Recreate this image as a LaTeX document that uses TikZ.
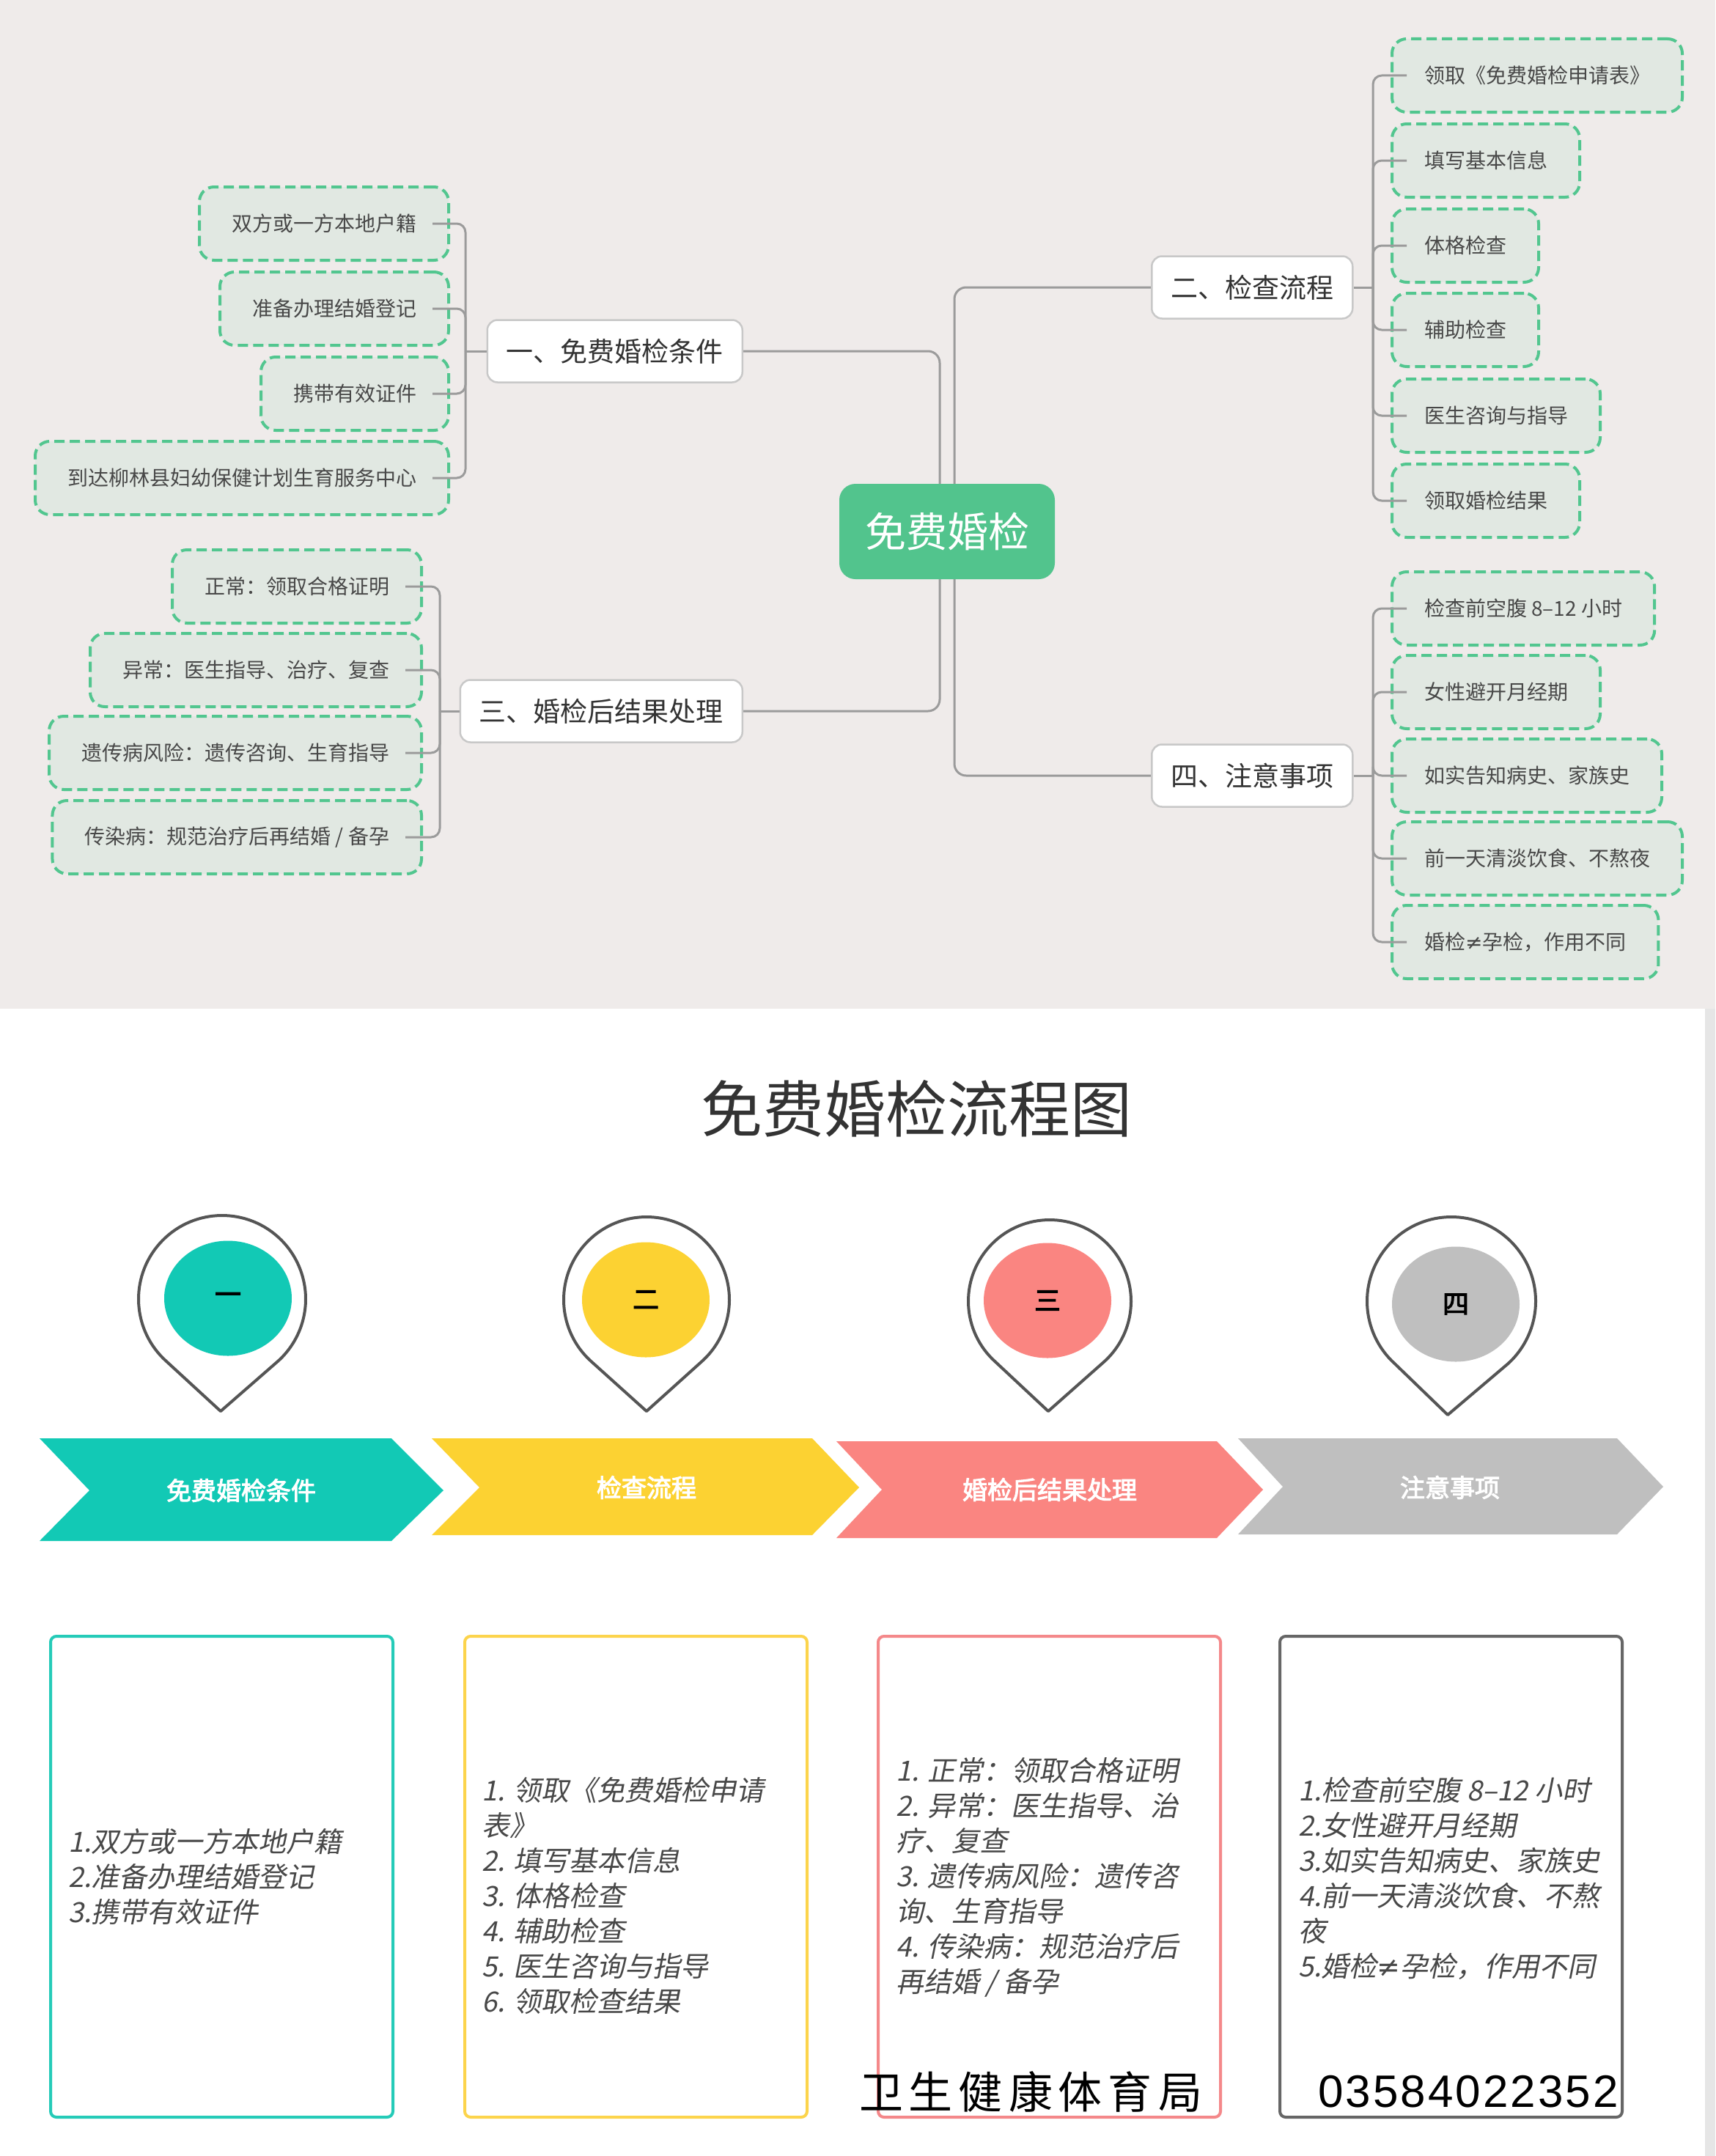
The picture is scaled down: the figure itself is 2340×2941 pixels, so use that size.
\documentclass[tikz,border=0pt]{standalone}
\usepackage{fontspec}
\setmainfont{Noto Sans CJK SC}
\newfontfamily\cjk{Noto Sans CJK SC}
\newfontfamily\cjkit{Noto Sans CJK SC}[FakeSlant=0.2]
\newfontfamily\cjkb{Noto Sans CJK SC}[FakeBold=3]
\newfontfamily\djv{DejaVu Sans}
\newfontfamily\lib{Liberation Sans}
\usetikzlibrary{shapes.geometric}
\definecolor{topbg}{HTML}{EFEBEA}
\definecolor{stripgray}{HTML}{E6E6E6}
\definecolor{leafgreen}{HTML}{52C68F}
\definecolor{leaffill}{HTML}{E1E8E2}
\definecolor{rootgreen}{HTML}{52C48D}
\definecolor{conngray}{HTML}{9B9B9B}
\definecolor{branchborder}{HTML}{C8C8C8}
\definecolor{txtgray}{HTML}{484848}
\definecolor{darktxt}{HTML}{333333}
\definecolor{cteal}{HTML}{12C9B5}
\definecolor{cyellow}{HTML}{FCD232}
\definecolor{csalmon}{HTML}{FA8581}
\definecolor{cgray}{HTML}{BFBFBF}
\definecolor{bteal}{HTML}{25CBB8}
\definecolor{byellow}{HTML}{FCD44C}
\definecolor{bsalmon}{HTML}{F4888A}
\definecolor{bgray}{HTML}{666666}
\definecolor{pinline}{HTML}{555555}
\pgfdeclarelayer{bg}
\pgfdeclarelayer{lines}
\pgfsetlayers{bg,lines,main}
\begin{document}
\begin{tikzpicture}[x=1pt,y=-1pt,
  leaf/.style={draw=leafgreen, line width=4pt, dash pattern=on 14pt off 7pt,
    fill=leaffill, rounded corners=20pt, minimum height=100pt, inner xsep=44pt,
    text=txtgray, font=\cjk\fontsize{28pt}{34pt}\selectfont},
  branch/.style={draw=branchborder, line width=2.5pt, fill=white, rounded corners=14pt,
    minimum height=85pt, inner xsep=26pt, text=darktxt,
    font=\cjk\fontsize{37pt}{44pt}\selectfont},
  root/.style={fill=rootgreen, text=white, rounded corners=22pt, minimum width=294pt,
    minimum height=130pt, font=\cjk\fontsize{56pt}{64pt}\selectfont},
  conn/.style={draw=conngray, line width=3pt, rounded corners=12pt},
  rootconn/.style={draw=conngray, line width=3pt, rounded corners=16pt},
  pinshape/.style={draw=pinline, line width=4pt, fill=white, line join=round},
  pindot/.style={ellipse, inner sep=0pt, minimum width=174pt, minimum height=157pt,
    text=black, font=\cjkb\fontsize{36pt}{40pt}\selectfont},
  chevtext/.style={text=white, font=\cjkb\fontsize{34pt}{40pt}\selectfont},
  listbox/.style={draw, line width=4pt, rounded corners=8pt, minimum width=467pt,
    minimum height=656pt, fill=white},
  listtext/.style={anchor=west, align=left, inner sep=0pt, text=txtgray,
    font=\cjkit\fontsize{38pt}{48pt}\selectfont}
]
\useasboundingbox (0,0) rectangle (2340,2941);
\begin{pgfonlayer}{bg}
  \fill[topbg] (0,0) rectangle (2340,1376);
  \fill[white] (0,1376) rectangle (2326,2941);
  \fill[stripgray] (2326,1376) rectangle (2340,2941);
\end{pgfonlayer}

% ---------------- mind map ----------------
\node[branch, anchor=east] (n1) at (1014,479) {一、免费婚检条件};
\node[branch, anchor=west] (n2) at (1570,392) {二、检查流程};
\node[branch, anchor=east] (n3) at (1014,970) {三、婚检后结果处理};
\node[branch, anchor=west] (n4) at (1570,1058) {四、注意事项};

\coordinate (cL) at (1282,725);
\coordinate (cR) at (1302,725);
\begin{pgfonlayer}{lines}
  \draw[rootconn] (n1.east) -| (cL) |- (n3.east);
  \draw[rootconn] (n2.west) -| (cR) |- (n4.west);
\end{pgfonlayer}
\node[root] (root) at (1292,725) {免费婚检};

% leaves of 一
\node[leaf, anchor=east] (a1) at (614,305) {双方或一方本地户籍};
\node[leaf, anchor=east] (a2) at (614,421) {准备办理结婚登记};
\node[leaf, anchor=east] (a3) at (614,537) {携带有效证件};
\node[leaf, anchor=east] (a4) at (614,652) {到达柳林县妇幼保健计划生育服务中心};
\coordinate (b1) at (635,479);
\foreach \l in {a1,a2,a3,a4}{\draw[conn] ([xshift=-24pt]\l.east) -| (b1);}
\draw[conn] (n1.west) -- (b1);

% leaves of 三
\node[leaf, anchor=east] (c1) at (577,800) {正常：领取合格证明};
\node[leaf, anchor=east] (c2) at (577,914) {异常：医生指导、治疗、复查};
\node[leaf, anchor=east] (c3) at (577,1027) {遗传病风险：遗传咨询、生育指导};
\node[leaf, anchor=east] (c4) at (577,1142) {传染病：规范治疗后再结婚 / 备孕};
\coordinate (b3) at (600,970);
\foreach \l in {c1,c2,c3,c4}{\draw[conn] ([xshift=-24pt]\l.east) -| (b3);}
\draw[conn] (n3.west) -- (b3);

% leaves of 二
\node[leaf, anchor=west] (d1) at (1897,103) {领取《免费婚检申请表》};
\node[leaf, anchor=west] (d2) at (1897,219) {填写基本信息};
\node[leaf, anchor=west] (d3) at (1897,335) {体格检查};
\node[leaf, anchor=west] (d4) at (1897,450) {辅助检查};
\node[leaf, anchor=west] (d5) at (1897,567) {医生咨询与指导};
\node[leaf, anchor=west] (d6) at (1897,683) {领取婚检结果};
\coordinate (b2) at (1873,392);
\foreach \l in {d1,d2,d3,d4,d5,d6}{\draw[conn] ([xshift=22pt]\l.west) -| (b2);}
\draw[conn] (n2.east) -- (b2);

% leaves of 四
\node[leaf, anchor=west] (e1) at (1897,830) {检查前空腹 8–12 小时};
\node[leaf, anchor=west] (e2) at (1897,944) {女性避开月经期};
\node[leaf, anchor=west] (e3) at (1897,1058) {如实告知病史、家族史};
\node[leaf, anchor=west] (e4) at (1897,1171) {前一天清淡饮食、不熬夜};
\node[leaf, anchor=west] (e5) at (1897,1285) {婚检{\djv ≠}孕检，作用不同};
\coordinate (b4) at (1873,1058);
\foreach \l in {e1,e2,e3,e4,e5}{\draw[conn] ([xshift=22pt]\l.west) -| (b4);}
\draw[conn] (n4.east) -- (b4);

% ---------------- flow chart ----------------
\node[text=darktxt, inner sep=0pt, font=\cjk\fontsize{84pt}{90pt}\selectfont] (title) at (1250,1512) {免费婚检流程图};

% pins
\draw[pinshape] (301,1925) -- ([shift={(228.2:114pt)}]303,1772) arc[start angle=228.2, end angle=-48.2, radius=114pt] -- cycle;
\draw[pinshape] (882,1925) -- ([shift={(228.2:113pt)}]882,1773) arc[start angle=228.2, end angle=-48.2, radius=113pt] -- cycle;
\draw[pinshape] (1430,1925) -- ([shift={(228.2:111pt)}]1432,1775) arc[start angle=228.2, end angle=-48.2, radius=111pt] -- cycle;
\draw[pinshape] (1975,1930) -- ([shift={(227.9:115pt)}]1980,1775) arc[start angle=227.9, end angle=-47.9, radius=115pt] -- cycle;
\node[pindot, fill=cteal] (p1) at (311,1771) {一};
\node[pindot, fill=cyellow] (p2) at (881,1773) {二};
\node[pindot, fill=csalmon] (p3) at (1429,1774) {三};
\node[pindot, fill=cgray] (p4) at (1986,1779) {四};

% chevrons
\fill[cteal] (54,1962) -- (534,1962) -- (605,2033) -- (534,2102) -- (54,2102) -- (122,2033) -- cycle;
\node[chevtext] (s1) at (329,2033) {免费婚检条件};
\fill[cyellow] (589,1962) -- (1108,1962) -- (1172,2029) -- (1108,2094) -- (589,2094) -- (654,2029) -- cycle;
\node[chevtext] (s2) at (882,2029) {检查流程};
\fill[csalmon] (1141,1966) -- (1660,1966) -- (1723,2032) -- (1660,2098) -- (1141,2098) -- (1203,2032) -- cycle;
\node[chevtext] (s3) at (1432,2032) {婚检后结果处理};
\fill[cgray] (1689,1962) -- (2206,1962) -- (2269,2028) -- (2206,2093) -- (1689,2093) -- (1750,2028) -- cycle;
\node[chevtext] (s4) at (1978,2029) {注意事项};

% list boxes
\node[listbox, draw=bteal] (box1) at (302.5,2560) {};
\node[listbox, draw=byellow] (box2) at (867.5,2560) {};
\node[listbox, draw=bsalmon] (box3) at (1431.5,2560) {};
\node[listbox, draw=bgray] (box4) at (1979.5,2560) {};

\node[listtext] (t1) at (93,2560) {1.双方或一方本地户籍\\2.准备办理结婚登记\\3.携带有效证件};
\node[listtext] (t2) at (657,2586) {1. 领取《免费婚检申请\\表》\\2. 填写基本信息\\3. 体格检查\\4. 辅助检查\\5. 医生咨询与指导\\6. 领取检查结果};
\node[listtext] (t3) at (1222,2561) {1. 正常：领取合格证明\\2. 异常：医生指导、治\\疗、复查\\3. 遗传病风险：遗传咨\\询、生育指导\\4. 传染病：规范治疗后\\再结婚 / 备孕};
\node[listtext] (t4) at (1771,2562) {1.检查前空腹 8–12 小时\\2.女性避开月经期\\3.如实告知病史、家族史\\4.前一天清淡饮食、不熬\\夜\\5.婚检{\djv ≠}孕检，作用不同};

\node[text=black, inner sep=0pt, font=\cjk\fontsize{60pt}{66pt}\selectfont] (org) at (1406,2853)
  {卫\kern8pt 生\kern8pt 健\kern8pt 康\kern8pt 体\kern8pt 育\kern8pt 局};
\node[text=black, inner sep=0pt, font=\lib\fontsize{62pt}{66pt}\selectfont] (tel) at (2003,2853)
  {0\kern3pt 3\kern3pt 5\kern3pt 8\kern3pt 4\kern3pt 0\kern3pt 2\kern3pt 2\kern3pt 3\kern3pt 5\kern3pt 2};
\end{tikzpicture}
\end{document}
